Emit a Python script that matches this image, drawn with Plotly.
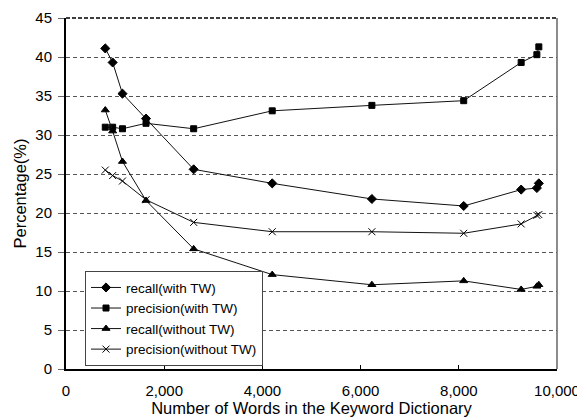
import plotly.graph_objects as go

x_words = [800, 950, 1150, 1630, 2600, 4200, 6230, 8100, 9270, 9590, 9630]
recall_tw = [41.1, 39.3, 35.3, 32.1, 25.6, 23.8, 21.8, 20.9, 23.0, 23.2, 23.8]
precision_tw = [31.0, 31.0, 30.8, 31.5, 30.8, 33.1, 33.8, 34.4, 39.3, 40.3, 41.3]
recall_notw = [33.2, 30.5, 26.6, 21.6, 15.4, 12.1, 10.8, 11.3, 10.2, 10.6, 10.8]
precision_notw = [25.5, 24.8, 24.1, 21.7, 18.8, 17.6, 17.6, 17.4, 18.6, 19.7, 19.8]

series = [
    ("recall(with TW)", recall_tw, "diamond", 7),
    ("precision(with TW)", precision_tw, "square", 6),
    ("recall(without TW)", recall_notw, "triangle-up", 7),
    ("precision(without TW)", precision_notw, "x-thin", 7),
]

fig = go.Figure()
for name, ys, sym, sz in series:
    fig.add_trace(go.Scatter(
        x=x_words, y=ys, name=name, mode="lines+markers",
        line=dict(color="#111", width=1),
        marker=dict(symbol=sym, size=sz, color="black",
                    line=dict(color="black", width=1)),
    ))

font = "Liberation Sans, Arial, sans-serif"
fig.update_layout(
    width=585, height=418,
    margin=dict(l=58, r=36, t=10, b=57),
    paper_bgcolor="white", plot_bgcolor="white",
    font=dict(family=font, size=15, color="black"),
    showlegend=True,
    legend=dict(x=0.0387, y=0.008, xanchor="left", yanchor="bottom",
                bgcolor="white", bordercolor="#444", borderwidth=1,
                font=dict(size=13.5), itemwidth=30, tracegroupgap=0),
    xaxis=dict(range=[0, 10000], dtick=2000, tickformat=",",
               showgrid=False, zeroline=False,
               showline=True, linecolor="black", linewidth=2,
               ticks="inside", ticklen=4, tickcolor="black",
               tickfont=dict(size=15), automargin=False, ticklabelstandoff=7,
               title=dict(text="Number of Words in the Keyword Dictionary",
                          font=dict(size=16.5), standoff=2)),
    yaxis=dict(range=[0, 45], dtick=5,
               showgrid=True, gridcolor="#555", griddash="4px,3px", gridwidth=1,
               zeroline=False,
               showline=True, linecolor="black", linewidth=2,
               ticks="outside", ticklen=6, tickcolor="#666",
               tickfont=dict(size=15), automargin=False, ticklabelstandoff=3,
               title=dict(text="Percentage(%)", font=dict(size=16.5), standoff=5)),
)
fig.add_shape(type="line", xref="paper", yref="paper", x0=1, x1=1, y0=0, y1=1,
              line=dict(color="#666", width=1.5))
fig.add_shape(type="line", xref="paper", yref="paper", x0=0, x1=1, y0=1, y1=1,
              line=dict(color="black", width=1.5, dash="4px,2px"))

fig.write_html("out.html")
